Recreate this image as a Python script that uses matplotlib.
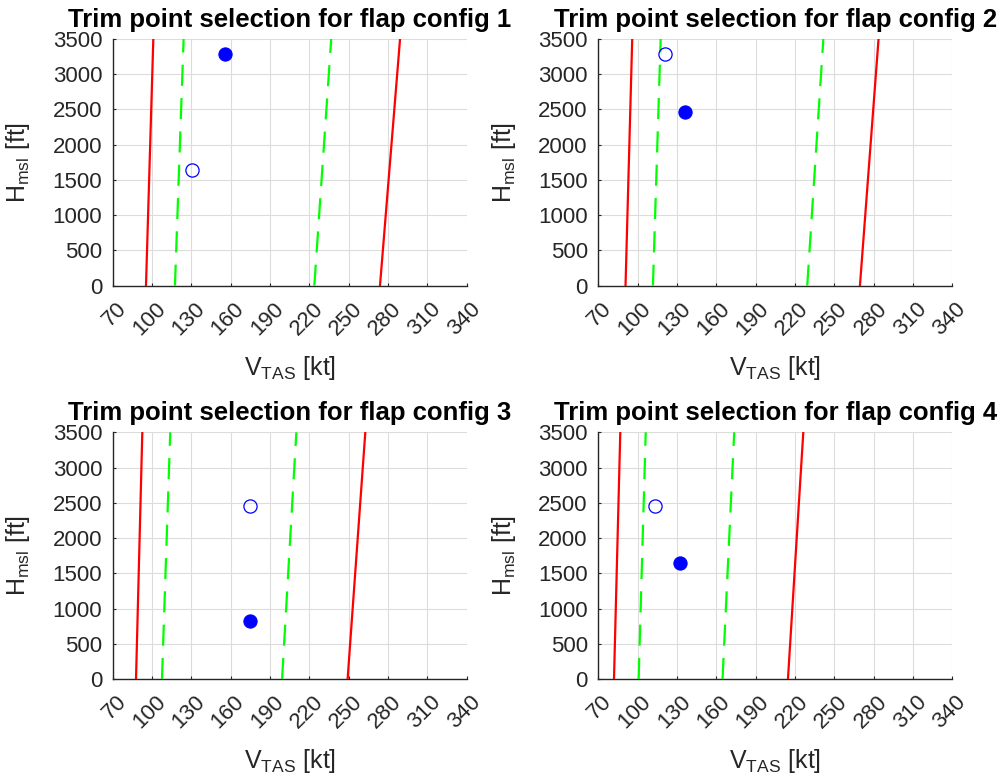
import matplotlib
matplotlib.use("Agg")
import matplotlib.pyplot as plt
import matplotlib.transforms as mtransforms

# ---------------- data ----------------
configs = [1, 2, 3, 4]
alt = [0, 3500]                       # ft, ends of each boundary line
# red solid limits (low / high speed) at H = 0 and 3500 ft
red_lo = [[95.4, 101.0], [90.8, 95.9], [87.8, 92.6], [82.0, 86.8]]
red_hi = [[273.9, 289.2], [269.6, 283.8], [249.2, 262.7], [214.7, 226.4]]
# green dashed limits
green_lo = [[117.5, 124.1], [111.7, 117.6], [107.6, 113.9], [100.8, 106.2]]
green_hi = [[223.8, 236.7], [229.4, 241.7], [199.2, 210.1], [164.8, 173.7]]
# trim points
open_v = [130.3, 121.1, 174.8, 113.0]
open_h = [1640, 3281, 2461, 2461]
fill_v = [155.7, 136.4, 175.0, 132.3]
fill_h = [3281, 2461, 820, 1640]

xticks = [70, 100, 130, 160, 190, 220, 250, 280, 310, 340]
yticks = [0, 500, 1000, 1500, 2000, 2500, 3000, 3500]

# ---------------- style ----------------
plt.rcParams['font.family'] = ['Liberation Sans', 'DejaVu Sans']
plt.rcParams['mathtext.fontset'] = 'custom'
plt.rcParams['mathtext.rm'] = 'Liberation Sans'
axcol = '#262626'

fig = plt.figure(figsize=(10.07, 7.83), dpi=100)
positions = [
    [0.1119, 0.6351, 0.3515, 0.3151],
    [0.5941, 0.6351, 0.3515, 0.3151],
    [0.1119, 0.1328, 0.3515, 0.3151],
    [0.5941, 0.1328, 0.3515, 0.3151],
]

for i, cfg in enumerate(configs):
    ax = fig.add_axes(positions[i])
    ax.plot(red_lo[i], alt, color=(1, 0, 0), lw=1.6, zorder=3)
    ax.plot(red_hi[i], alt, color=(1, 0, 0), lw=1.6, zorder=3)
    ax.plot(green_lo[i], alt, color=(0, 1, 0), lw=1.6, dashes=(9.5, 5.5), zorder=3)
    ax.plot(green_hi[i], alt, color=(0, 1, 0), lw=1.6, dashes=(9.5, 5.5), zorder=3)
    ax.plot([open_v[i]], [open_h[i]], 'o', ms=9.5, mfc='none', mec=(0, 0, 1),
            mew=0.9, zorder=4)
    ax.plot([fill_v[i]], [fill_h[i]], 'o', ms=9.5, mfc=(0, 0, 1), mec=(0, 0, 1),
            mew=0.8, zorder=4)

    ax.set_xlim(70, 340)
    ax.set_ylim(0, 3500)
    ax.set_xticks(xticks)
    ax.set_yticks(yticks)
    ax.grid(True, color='#dcdcdc', lw=0.8, zorder=0)
    ax.set_axisbelow(True)
    for s in ['top', 'right']:
        ax.spines[s].set_visible(False)
    for s in ['left', 'bottom']:
        ax.spines[s].set_color(axcol)
        ax.spines[s].set_linewidth(1.0)
    ax.tick_params(direction='in', length=2.5, width=0.8, colors=axcol,
                   labelsize=16, pad=7.5)
    ax.tick_params(axis='x', pad=9)
    offset = mtransforms.ScaledTranslation(3 / 100, 0, fig.dpi_scale_trans)
    for lab in ax.get_xticklabels():
        lab.set_rotation(45)
        lab.set_ha('right')
        lab.set_rotation_mode('anchor')
        lab.set_transform(lab.get_transform() + offset)

    ax.set_title(f'Trim point selection for flap config {cfg}', fontsize=18.5,
                 fontweight='bold', pad=8.6, color='black')
    ax.set_xlabel(r'$\mathregular{V_{TAS}}$ [kt]', fontsize=18, color=axcol)
    ax.set_ylabel(r'$\mathregular{H_{msl}}$ [ft]', fontsize=18, color=axcol)
    ax.xaxis.set_label_coords(0.5, -0.275)
    ax.yaxis.set_label_coords(-0.228, 0.5)

fig.savefig('out.png', dpi=100)
